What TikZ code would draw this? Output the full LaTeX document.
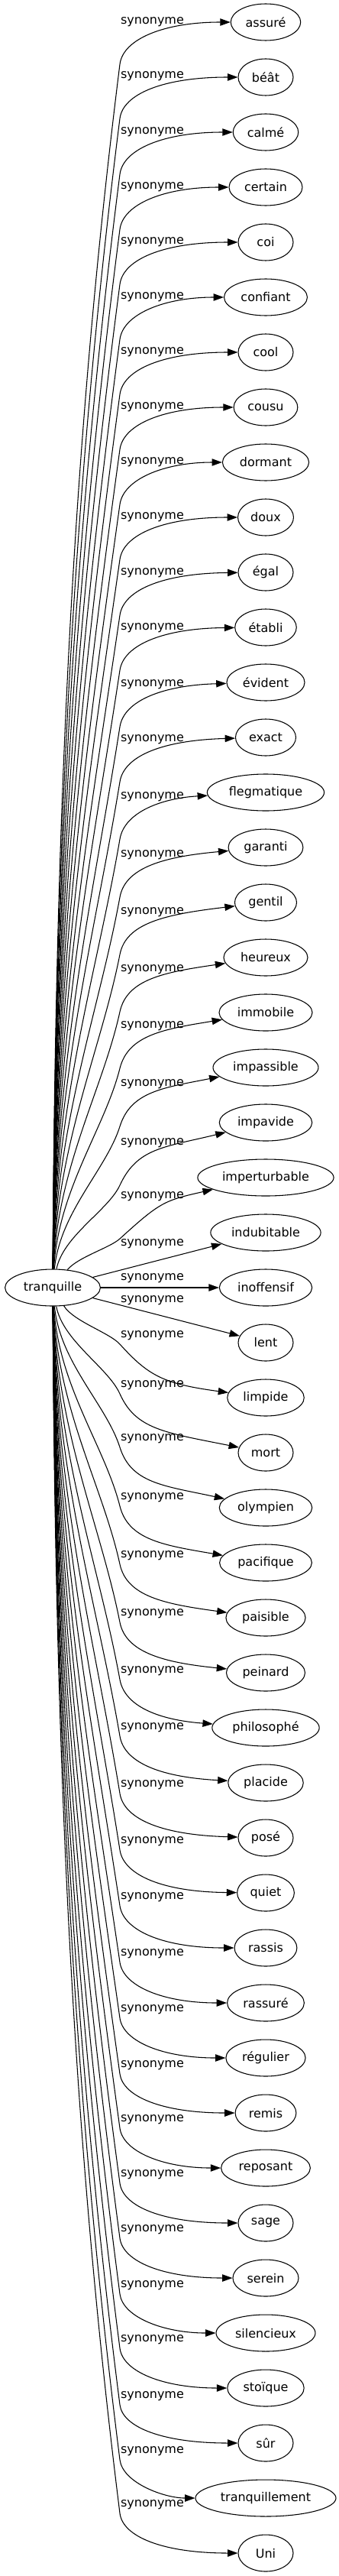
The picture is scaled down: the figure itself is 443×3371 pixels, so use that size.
\documentclass[tikz,border=0pt]{standalone}
\usepackage{fontspec}
\setmainfont{DejaVu Sans}
\usetikzlibrary{arrows.meta,shapes.geometric}

\begin{document}
\begin{tikzpicture}[x=0.75pt, y=-0.75pt, >={Triangle[length=10pt,width=7pt]},
  word/.style={draw, ellipse, line width=0.8pt, minimum width=54pt, minimum height=36pt,
    inner xsep=4.5pt, font=\fontsize{12}{14}\selectfont},
  lbl/.style={inner sep=0pt, font=\fontsize{12}{14}\selectfont},
  edge/.style={->, line width=0.8pt}]
  \useasboundingbox (0,0) rectangle (443,3371);
  % source column (left), synonym column (right), labels between
  \def\xA{69}
  \def\xB{348}
  \def\xL{199.5}
  % vertical scale: 1 unit = 1px, synonyms 72 apart
  \node[word] (tq) at (\xA,1685) {tranquille};
  \node[word] (n0) at (\xB,29) {assuré};
  \node[word] (n1) at (\xB,101) {béât};
  \node[word] (n2) at (\xB,173) {calmé};
  \node[word] (n3) at (\xB,245) {certain};
  \node[word] (n4) at (\xB,317) {coi};
  \node[word] (n5) at (\xB,389) {confiant};
  \node[word] (n6) at (\xB,461) {cool};
  \node[word] (n7) at (\xB,533) {cousu};
  \node[word] (n8) at (\xB,605) {dormant};
  \node[word] (n9) at (\xB,677) {doux};
  \node[word] (n10) at (\xB,749) {égal};
  \node[word] (n11) at (\xB,821) {établi};
  \node[word] (n12) at (\xB,893) {évident};
  \node[word] (n13) at (\xB,965) {exact};
  \node[word] (n14) at (\xB,1037) {flegmatique};
  \node[word] (n15) at (\xB,1109) {garanti};
  \node[word] (n16) at (\xB,1181) {gentil};
  \node[word] (n17) at (\xB,1253) {heureux};
  \node[word] (n18) at (\xB,1325) {immobile};
  \node[word] (n19) at (\xB,1397) {impassible};
  \node[word] (n20) at (\xB,1469) {impavide};
  \node[word] (n21) at (\xB,1541) {imperturbable};
  \node[word] (n22) at (\xB,1613) {indubitable};
  \node[word] (n23) at (\xB,1685) {inoffensif};
  \node[word] (n24) at (\xB,1757) {lent};
  \node[word] (n25) at (\xB,1829) {limpide};
  \node[word] (n26) at (\xB,1901) {mort};
  \node[word] (n27) at (\xB,1973) {olympien};
  \node[word] (n28) at (\xB,2045) {pacifique};
  \node[word] (n29) at (\xB,2117) {paisible};
  \node[word] (n30) at (\xB,2189) {peinard};
  \node[word] (n31) at (\xB,2261) {philosophé};
  \node[word] (n32) at (\xB,2333) {placide};
  \node[word] (n33) at (\xB,2405) {posé};
  \node[word] (n34) at (\xB,2477) {quiet};
  \node[word] (n35) at (\xB,2549) {rassis};
  \node[word] (n36) at (\xB,2621) {rassuré};
  \node[word] (n37) at (\xB,2693) {régulier};
  \node[word] (n38) at (\xB,2765) {remis};
  \node[word] (n39) at (\xB,2837) {reposant};
  \node[word] (n40) at (\xB,2909) {sage};
  \node[word] (n41) at (\xB,2981) {serein};
  \node[word] (n42) at (\xB,3053) {silencieux};
  \node[word] (n43) at (\xB,3125) {stoïque};
  \node[word] (n44) at (\xB,3197) {sûr};
  \node[word] (n45) at (\xB,3269) {tranquillement};
  \node[word] (n46) at (\xB,3341) {Uni};
  % upper edges: climb from the top of tranquille, bend under the label
  \foreach \i/\ly in {0/29,1/100,2/173,3/245,4/317,5/389,6/461,7/533,8/605,9/677,
      10/750,11/822,12/896,13/968,14/1043,15/1119,16/1194,17/1269,18/1343,19/1419,
      20/1496,21/1566} {
    \pgfmathsetmacro\nY{29+72*\i}
    \pgfmathsetmacro\pY{\ly+55}
    \pgfmathsetmacro\hH{1661-\pY}
    \pgfmathsetmacro\aA{0.1+40/\hH}
    \pgfmathsetmacro\sX{72+min(40,1200/\hH)}
    \pgfmathsetmacro\cAy{1661-0.4*\hH}
    \pgfmathsetmacro\cBx{157-0.3*\hH*\aA}
    \pgfmathsetmacro\cBy{\pY+0.3*\hH}
    \pgfmathsetmacro\gG{\pY-\nY}
    \pgfmathsetmacro\cCx{157+0.6*\gG*\aA}
    \pgfmathsetmacro\cCy{\pY-0.6*\gG}
    \pgfmathsetmacro\cDy{\nY+1.2*max(0,\gG-55)}
    \node[lbl] (l\i) at (\xL,\ly) {synonyme};
    \draw[edge] (tq) .. controls (\sX,\cAy) and (\cBx,\cBy) .. (157,\pY)
      .. controls (\cCx,\cCy) and (215,\cDy) .. (n\i);
  }
  % middle edges: straight
  \node[lbl] (l22) at (\xL,1628) {synonyme};
  \node[lbl] (l23) at (\xL,1673) {synonyme};
  \node[lbl] (l24) at (\xL,1702) {synonyme};
  \draw[edge] (tq) -- (n22);
  \draw[edge] (tq) -- (n23);
  \draw[edge] (tq) -- (n24);
  % lower edges: drop from the bottom of tranquille, bend under the label
  \foreach \i/\ly in {25/1748,26/1813,27/1883,28/1960,29/2036,30/2112,31/2187,
      32/2261,33/2336,34/2410,35/2483,36/2557,37/2630,38/2703,39/2774,40/2846,
      41/2918,42/2991,43/3062,44/3136,45/3208,46/3278} {
    \pgfmathsetmacro\nY{29+72*\i}
    \pgfmathsetmacro\pY{\ly+11}
    \pgfmathsetmacro\hH{\pY-1709}
    \pgfmathsetmacro\aA{0.1+40/\hH}
    \pgfmathsetmacro\sX{72+min(40,1200/\hH)}
    \pgfmathsetmacro\cAy{1709+0.4*\hH}
    \pgfmathsetmacro\cBx{157-0.3*\hH*\aA}
    \pgfmathsetmacro\cBy{\pY-0.3*\hH}
    \pgfmathsetmacro\gG{\nY-\pY}
    \pgfmathsetmacro\cCx{157+0.6*\gG*\aA}
    \pgfmathsetmacro\cCy{\pY+0.6*\gG}
    \pgfmathsetmacro\cDy{\nY-1.2*max(0,\gG-55)}
    \node[lbl] (l\i) at (\xL,\ly) {synonyme};
    \draw[edge] (tq) .. controls (\sX,\cAy) and (\cBx,\cBy) .. (157,\pY)
      .. controls (\cCx,\cCy) and (215,\cDy) .. (n\i);
  }
\end{tikzpicture}
\end{document}
